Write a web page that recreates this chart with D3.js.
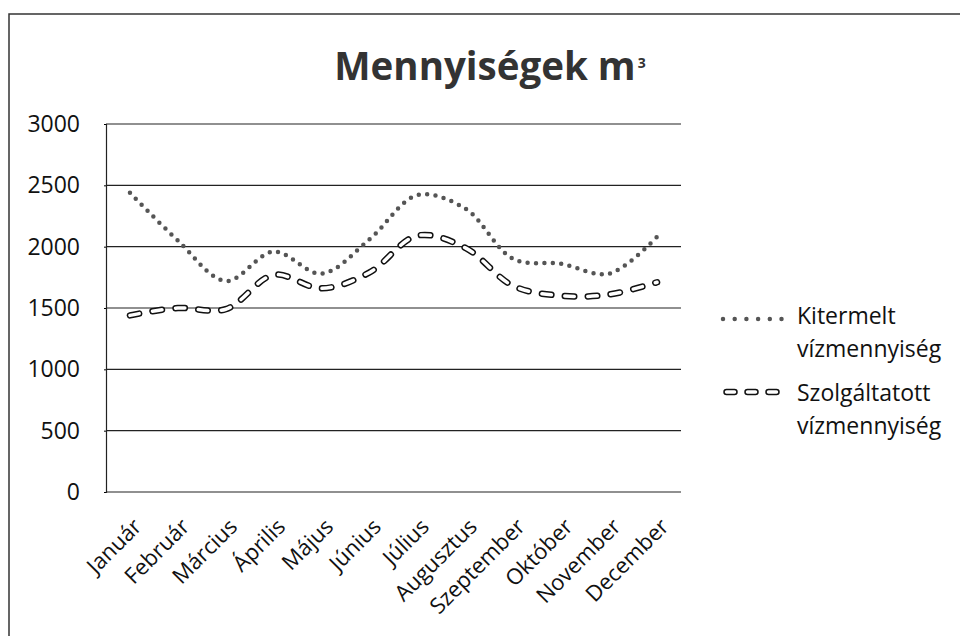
<!DOCTYPE html>
<html>
<head>
<meta charset="utf-8">
<script src="https://cdn.jsdelivr.net/npm/d3@7"></script>
<style>
  body { margin: 0; background: #fff; }
  text { font-family: "Open Sans", sans-serif; fill: #111; }
</style>
</head>
<body>
<svg id="chart" width="960" height="636"></svg>
<script>
// data
const months = ["Január", "Február", "Március", "Április", "Május", "Június",
  "Július", "Augusztus", "Szeptember", "Október", "November", "December"];
const kitermelt = [2440, 2050, 1720, 1960, 1780, 2060, 2420, 2310, 1900, 1860, 1780, 2080];
const szolgaltatott = [1440, 1500, 1490, 1770, 1660, 1790, 2090, 1990, 1680, 1600, 1610, 1710];
const yTicks = [0, 500, 1000, 1500, 2000, 2500, 3000];
const seriesNames = [["Kitermelt", "vízmennyiség"], ["Szolgáltatott", "vízmennyiség"]];

const svg = d3.select("#chart");

// frame (only left and top edges show in the scan)
svg.append("path")
  .attr("d", "M9,636 L9,14 L960,14")
  .attr("fill", "none")
  .attr("stroke", "#333")
  .attr("stroke-width", 1.5);

// title
const title = svg.append("text")
  .attr("x", 490)
  .attr("y", 80)
  .attr("text-anchor", "middle")
  .style("font-weight", "bold")
  .style("font-size", "38.5px")
  .style("fill", "#333");
title.append("tspan").text("Mennyiségek m");
title.append("tspan").text("3").style("font-size", "14px").attr("dx", 2).attr("dy", -12);

// scales
const plotLeft = 106, plotRight = 681, plotTop = 124, plotBottom = 492;
const x = d3.scaleBand().domain(months).range([plotLeft, plotRight]);
const cx = (m) => x(m) + x.bandwidth() / 2;
const y = d3.scaleLinear().domain([0, 3000]).range([plotBottom, plotTop]);

// gridlines
svg.append("g")
  .selectAll("line")
  .data(yTicks)
  .join("line")
  .attr("x1", plotLeft)
  .attr("x2", plotRight)
  .attr("y1", (d) => y(d))
  .attr("y2", (d) => y(d))
  .attr("stroke", "#222")
  .attr("stroke-width", 1.2);

// y axis
const yAxis = svg.append("g")
  .attr("transform", `translate(${plotLeft},0)`)
  .call(d3.axisLeft(y).tickValues(yTicks).tickFormat(d3.format("d")).tickSize(2).tickPadding(24));
yAxis.select(".domain").attr("stroke", "#222").attr("stroke-width", 1.2);
yAxis.selectAll("text")
  .style("font-family", "'Open Sans', sans-serif")
  .style("font-size", "23px")
  .attr("fill", "#111");

// x axis labels
const xAxis = svg.append("g")
  .attr("transform", `translate(0,${plotBottom})`)
  .call(d3.axisBottom(x).tickSize(0).tickPadding(0));
xAxis.select(".domain").remove();
xAxis.selectAll("text")
  .style("font-family", "'Open Sans', sans-serif")
  .style("font-size", "22px")
  .attr("fill", "#111")
  .attr("text-anchor", "end")
  .attr("dy", "0")
  .attr("transform", "translate(13,36) rotate(-45)");

// lines
const line = d3.line()
  .x((d, i) => cx(months[i]))
  .y((d) => y(d))
  .curve(d3.curveCatmullRom.alpha(0.5));

svg.append("path")
  .datum(kitermelt)
  .attr("d", line)
  .attr("fill", "none")
  .attr("stroke", "#555")
  .attr("stroke-width", 4.5)
  .attr("stroke-linecap", "round")
  .attr("stroke-dasharray", "0,8.4");

const dashArr = "9.5,13.5";
[["#111", 6.5], ["#fff", 3.5]].forEach(([c, w]) => {
  svg.append("path")
    .datum(szolgaltatott)
    .attr("d", line)
    .attr("fill", "none")
    .attr("stroke", c)
    .attr("stroke-width", w)
    .attr("stroke-linecap", "round")
    .attr("stroke-dasharray", dashArr);
});

// legend
const legend = svg.append("g");
const legendY = [319, 392];
const textY = [324, 401];
legend.append("line")
  .attr("x1", 723).attr("x2", 783)
  .attr("y1", legendY[0]).attr("y2", legendY[0])
  .attr("stroke", "#555").attr("stroke-width", 4.5)
  .attr("stroke-linecap", "round").attr("stroke-dasharray", "0,11.7");
[["#111", 6.5], ["#fff", 3.5]].forEach(([c, w]) => {
  legend.append("line")
    .attr("x1", 726.5).attr("x2", 778)
    .attr("y1", legendY[1]).attr("y2", legendY[1])
    .attr("stroke", c).attr("stroke-width", w)
    .attr("stroke-linecap", "round").attr("stroke-dasharray", "8,13");
});

seriesNames.forEach((lines, k) => {
  const t = legend.append("text")
    .attr("x", 797)
    .attr("y", textY[k])
    .style("font-size", "23px");
  lines.forEach((s, j) => {
    t.append("tspan").attr("x", 797).attr("dy", j === 0 ? 0 : 33).text(s);
  });
});
</script>
</body>
</html>
